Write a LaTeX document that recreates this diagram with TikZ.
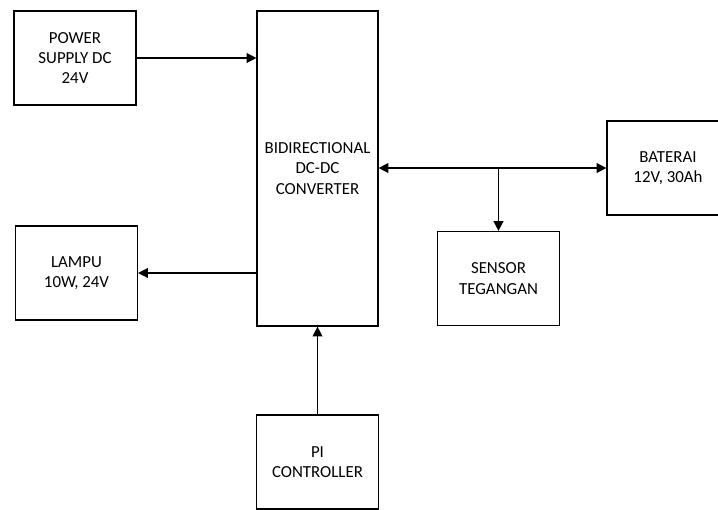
\documentclass[tikz,border=0pt]{standalone}
\usepackage{fontspec}
\setmainfont{Carlito}
\usetikzlibrary{arrows.meta}
\begin{document}
\begin{tikzpicture}[x=0.025cm, y=-0.025cm,
	font=\fontsize{12}{14.5}\selectfont,
	blok/.style={draw, line width=0.8pt, align=center, minimum width=3.05cm, minimum height=2.35cm, inner sep=0pt},
	panah/.style={line width=1pt, -{Triangle[length=7pt, width=7pt]}},
	duapanah/.style={line width=1pt, {Triangle[length=7pt, width=7pt]}-{Triangle[length=7pt, width=7pt]}}]
	% Bildgröße
	\useasboundingbox (0,0) rectangle (718,509);
	
	% Blöcke
	\node[blok] (ps) at (75,58) {POWER\\SUPPLY DC\\24V};
	\node[blok, minimum width=3.025cm, minimum height=7.875cm] (conv) at (317.5,168.5) {BIDIRECTIONAL\\DC-DC\\CONVERTER};
	\node[blok] (lampu) at (76.5,273) {LAMPU\\10W, 24V};
	\node[blok] (bat) at (668,168) {BATERAI\\12V, 30Ah};
	\node[blok] (sensor) at (498.5,278.5) {SENSOR\\TEGANGAN};
	\node[blok] (pi) at (317.5,462) {PI\\CONTROLLER};
	
	% Verbindungen
	\draw[panah] (ps.east) -- (ps.east -| conv.west);
	\draw[panah] (conv.west |- lampu.east) -- (lampu.east);
	\draw[duapanah] (conv.east |- bat.west) -- (bat.west);
	\coordinate (cabang) at (sensor.north |- bat.west);
	\draw[panah] (cabang) -- (sensor.north);
	\draw[panah] (pi.north) -- (conv.south);
\end{tikzpicture}
\end{document}
